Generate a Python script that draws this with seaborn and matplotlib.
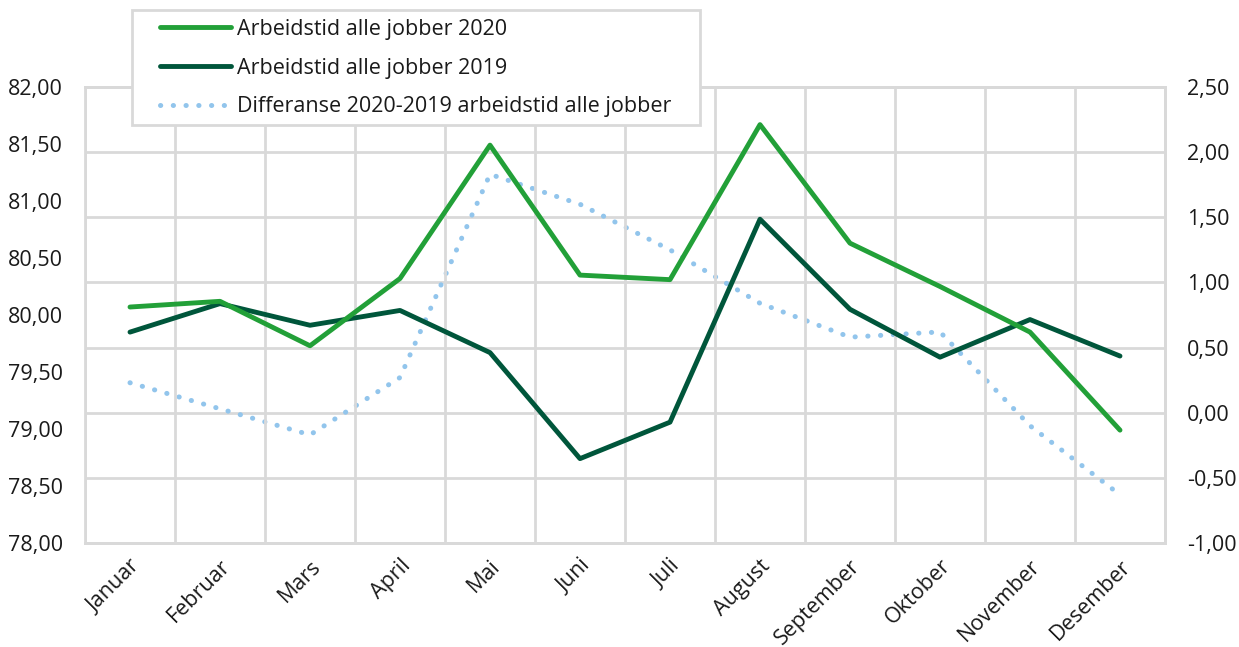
import matplotlib
matplotlib.use("Agg")
import matplotlib.pyplot as plt
import seaborn as sns
import numpy as np
import pandas as pd
from matplotlib.ticker import FixedLocator, FuncFormatter
from matplotlib.patches import Rectangle

months = ["Januar", "Februar", "Mars", "April", "Mai", "Juni", "Juli",
          "August", "September", "Oktober", "November", "Desember"]
arb_2020 = [80.07, 80.12, 79.73, 80.32, 81.49, 80.35, 80.31, 81.67, 80.63, 80.25, 79.85, 78.99]
arb_2019 = [79.85, 80.10, 79.91, 80.04, 79.67, 78.74, 79.06, 80.84, 80.05, 79.63, 79.96, 79.64]
diff = [0.23, 0.03, -0.17, 0.27, 1.83, 1.60, 1.25, 0.84, 0.58, 0.62, -0.10, -0.63]

labels = ["Arbeidstid alle jobber 2020", "Arbeidstid alle jobber 2019",
          "Differanse 2020-2019 arbeidstid alle jobber"]

sns.set_theme(style="white")
plt.rcParams["font.family"] = ["Open Sans", "DejaVu Sans"]

df = pd.DataFrame({"x": np.arange(len(months)), "a20": arb_2020, "a19": arb_2019, "d": diff})

W, H = 1239, 647
fig = plt.figure(figsize=(W/100, H/100), dpi=100)
ax = fig.add_axes([85/W, 1-543/H, (1165-85)/W, (543-87)/H])
ax2 = ax.twinx()

grid_c = "#d9d9d9"
txt_c = "#1a1a1a"
c20 = "#22a038"
c19 = "#00563b"
cd = "#92c5ec"
fs = 15.5

sns.lineplot(data=df, x="x", y="d", ax=ax2, color=cd, lw=3.6, linestyle=(0, (0.05, 2.5)),
             label=labels[2], legend=False)
sns.lineplot(data=df, x="x", y="a19", ax=ax, color=c19, lw=3.5, label=labels[1], legend=False)
sns.lineplot(data=df, x="x", y="a20", ax=ax, color=c20, lw=3.5, label=labels[0], legend=False)

for l in ax2.lines:
    l.set_dash_capstyle("round")

ax.set_zorder(ax2.get_zorder() + 1)
ax.patch.set_visible(False)

ax.set_xlim(-0.5, len(months) - 0.5)
ax.set_ylim(78, 82)
ax2.set_ylim(-1, 2.5)
ax.set_yticks(np.arange(78, 82.01, 0.5))
ax2.set_yticks(np.arange(-1, 2.51, 0.5))
fmt = FuncFormatter(lambda v, p: f"{v:.2f}".replace(".", ","))
ax.yaxis.set_major_formatter(fmt)
ax2.yaxis.set_major_formatter(fmt)

ax.set_xticks(np.arange(len(months)))
ax.set_xticklabels(months, rotation=45, ha="right", rotation_mode="anchor")
ax.xaxis.set_minor_locator(FixedLocator(np.arange(-0.5, len(months), 1)))

ax.grid(False)
ax2.grid(False)
ax2.yaxis.grid(True, color=grid_c, lw=2)
ax2.set_axisbelow(True)
ax.xaxis.grid(True, which="minor", color=grid_c, lw=2)
for a in (ax, ax2):
    for s in a.spines.values():
        s.set_color(grid_c)
        s.set_linewidth(2)
ax2.spines["left"].set_visible(False)

ax.set_xlabel("")
ax.set_ylabel("")
ax2.set_ylabel("")
ax.tick_params(axis="both", which="both", length=0, labelsize=fs, colors=txt_c)
ax.tick_params(axis="y", pad=16)
ax.tick_params(axis="x", pad=9)
ax2.tick_params(axis="y", length=0, labelsize=fs, colors=txt_c, pad=16)

h1, _ = ax.get_legend_handles_labels()
h2, _ = ax2.get_legend_handles_labels()
handles = {l.get_label(): l for l in h1 + h2}
leg = fig.legend([handles[k] for k in labels], labels, loc="upper left",
                 bbox_to_anchor=(160/W, 1-19/H), frameon=False, fontsize=fs,
                 handlelength=3.3, handletextpad=0.3, labelspacing=0.82,
                 borderpad=0.0, borderaxespad=0)
for t in leg.get_texts():
    t.set_color(txt_c)

# legend frame with Excel-like padding
fig.canvas.draw()
bb = leg.get_window_extent().transformed(fig.transFigure.inverted())
x0 = 132 / W
y1 = 1 - 10 / H
pad_r = 28 / W
pad_b = 8 / H
frame = Rectangle((x0, bb.y0 - pad_b), bb.x1 + pad_r - x0, y1 - (bb.y0 - pad_b),
                  transform=fig.transFigure, facecolor="white", edgecolor=grid_c,
                  lw=2, zorder=leg.get_zorder() - 0.5)
fig.patches.append(frame)

fig.savefig("out.png", dpi=100)
